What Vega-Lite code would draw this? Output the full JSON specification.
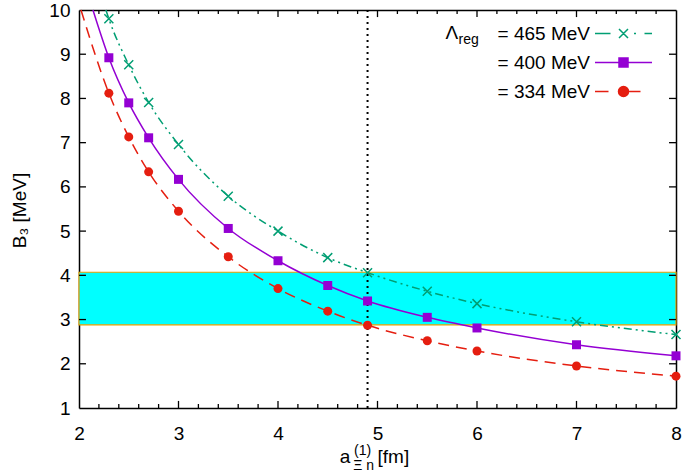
{
  "$schema": "https://vega.github.io/schema/vega-lite/v6.json",
  "width": 597,
  "height": 398,
  "autosize": {"type": "none"},
  "padding": {"left": 79, "top": 10, "right": 9, "bottom": 68},
  "background": "white",
  "config": {
    "view": {"stroke": null},
    "font": "Liberation Sans",
    "text": {"font": "Liberation Sans", "color": "black"}
  },
  "datasets": {
    "pts": [
      {"series": "465", "a": 2.3, "B": 9.80}, {"series": "465", "a": 2.5, "B": 8.76}, {"series": "465", "a": 2.7, "B": 7.91},
      {"series": "465", "a": 3.0, "B": 6.96}, {"series": "465", "a": 3.5, "B": 5.79}, {"series": "465", "a": 4.0, "B": 5.00},
      {"series": "465", "a": 4.5, "B": 4.40}, {"series": "465", "a": 4.9, "B": 4.06}, {"series": "465", "a": 5.5, "B": 3.64},
      {"series": "465", "a": 6.0, "B": 3.36}, {"series": "465", "a": 7.0, "B": 2.95}, {"series": "465", "a": 8.0, "B": 2.66},
      {"series": "400", "a": 2.3, "B": 8.92}, {"series": "400", "a": 2.5, "B": 7.90}, {"series": "400", "a": 2.7, "B": 7.11},
      {"series": "400", "a": 3.0, "B": 6.17}, {"series": "400", "a": 3.5, "B": 5.06}, {"series": "400", "a": 4.0, "B": 4.33},
      {"series": "400", "a": 4.5, "B": 3.77}, {"series": "400", "a": 4.9, "B": 3.42}, {"series": "400", "a": 5.5, "B": 3.05},
      {"series": "400", "a": 6.0, "B": 2.81}, {"series": "400", "a": 7.0, "B": 2.43}, {"series": "400", "a": 8.0, "B": 2.18},
      {"series": "334", "a": 2.3, "B": 8.12}, {"series": "334", "a": 2.5, "B": 7.13}, {"series": "334", "a": 2.7, "B": 6.34},
      {"series": "334", "a": 3.0, "B": 5.45}, {"series": "334", "a": 3.5, "B": 4.42}, {"series": "334", "a": 4.0, "B": 3.70},
      {"series": "334", "a": 4.5, "B": 3.19}, {"series": "334", "a": 4.9, "B": 2.87}, {"series": "334", "a": 5.5, "B": 2.52},
      {"series": "334", "a": 6.0, "B": 2.29}, {"series": "334", "a": 7.0, "B": 1.95}, {"series": "334", "a": 8.0, "B": 1.72}
    ],
    "curves": [
      {"series": "465", "a": 2.27, "B": 10.0},
      {"series": "465", "a": 2.3, "B": 9.80}, {"series": "465", "a": 2.5, "B": 8.76}, {"series": "465", "a": 2.7, "B": 7.91},
      {"series": "465", "a": 3.0, "B": 6.96}, {"series": "465", "a": 3.5, "B": 5.79}, {"series": "465", "a": 4.0, "B": 5.00},
      {"series": "465", "a": 4.5, "B": 4.40}, {"series": "465", "a": 4.9, "B": 4.06}, {"series": "465", "a": 5.5, "B": 3.64},
      {"series": "465", "a": 6.0, "B": 3.36}, {"series": "465", "a": 7.0, "B": 2.95}, {"series": "465", "a": 8.0, "B": 2.66},
      {"series": "400", "a": 2.14, "B": 10.0},
      {"series": "400", "a": 2.3, "B": 8.92}, {"series": "400", "a": 2.5, "B": 7.90}, {"series": "400", "a": 2.7, "B": 7.11},
      {"series": "400", "a": 3.0, "B": 6.17}, {"series": "400", "a": 3.5, "B": 5.06}, {"series": "400", "a": 4.0, "B": 4.33},
      {"series": "400", "a": 4.5, "B": 3.77}, {"series": "400", "a": 4.9, "B": 3.42}, {"series": "400", "a": 5.5, "B": 3.05},
      {"series": "400", "a": 6.0, "B": 2.81}, {"series": "400", "a": 7.0, "B": 2.43}, {"series": "400", "a": 8.0, "B": 2.18},
      {"series": "334", "a": 2.02, "B": 10.0},
      {"series": "334", "a": 2.3, "B": 8.12}, {"series": "334", "a": 2.5, "B": 7.13}, {"series": "334", "a": 2.7, "B": 6.34},
      {"series": "334", "a": 3.0, "B": 5.45}, {"series": "334", "a": 3.5, "B": 4.42}, {"series": "334", "a": 4.0, "B": 3.70},
      {"series": "334", "a": 4.5, "B": 3.19}, {"series": "334", "a": 4.9, "B": 2.87}, {"series": "334", "a": 5.5, "B": 2.52},
      {"series": "334", "a": 6.0, "B": 2.29}, {"series": "334", "a": 7.0, "B": 1.95}, {"series": "334", "a": 8.0, "B": 1.72}
    ],
    "band": [{"lo": 2.88, "hi": 4.07}],
    "xmajor": [{"v": 3}, {"v": 4}, {"v": 5}, {"v": 6}, {"v": 7}],
    "xminor": [
      {"v": 2.2}, {"v": 2.4}, {"v": 2.6}, {"v": 2.8}, {"v": 3.2}, {"v": 3.4}, {"v": 3.6}, {"v": 3.8},
      {"v": 4.2}, {"v": 4.4}, {"v": 4.6}, {"v": 4.8}, {"v": 5.2}, {"v": 5.4}, {"v": 5.6}, {"v": 5.8},
      {"v": 6.2}, {"v": 6.4}, {"v": 6.6}, {"v": 6.8}, {"v": 7.2}, {"v": 7.4}, {"v": 7.6}, {"v": 7.8}
    ],
    "ymajor": [{"v": 2}, {"v": 3}, {"v": 4}, {"v": 5}, {"v": 6}, {"v": 7}, {"v": 8}, {"v": 9}]
  },
  "resolve": {"axis": {"x": "independent", "y": "independent"}},
  "layer": [
    {
      "data": {"name": "band"},
      "mark": {"type": "rect", "fill": "#00ffff", "stroke": "#e69f00", "strokeWidth": 1.2},
      "encoding": {
        "x": {"datum": 2, "type": "quantitative",
          "scale": {"domain": [2, 8], "nice": false, "zero": false},
          "axis": {"orient": "bottom", "title": null, "ticks": false, "domain": true, "grid": false,
            "domainColor": "black", "domainWidth": 1.5,
            "values": [2, 3, 4, 5, 6, 7, 8], "format": "d",
            "labelOverlap": false, "labelFlush": false, "labelBound": false,
            "labelPadding": 16, "labelFont": "Liberation Sans", "labelFontSize": 19, "labelColor": "black"}},
        "x2": {"datum": 8},
        "y": {"field": "lo", "type": "quantitative",
          "scale": {"domain": [1, 10], "nice": false, "zero": false},
          "axis": {"orient": "left", "ticks": false, "domain": true, "grid": false, "domainColor": "black", "domainWidth": 1.5,
            "values": [1,2,3,4,5,6,7,8,9,10],
            "labelPadding": 9, "labelFlush": false, "labelOverlap": false,
            "labelFont": "Liberation Sans", "labelFontSize": 19, "labelColor": "black",
            "title": "B₃ [MeV]", "titleFont": "Liberation Sans", "titleFontSize": 19, "titleFontWeight": "normal",
            "titleColor": "black", "titleX": -60, "titleY": 200, "titleAngle": 270, "titleAlign": "center", "titleBaseline": "middle"}},
        "y2": {"field": "hi"}
      }
    },
    {
      "data": {"name": "xmajor"},
      "mark": {"type": "rule", "color": "black", "strokeWidth": 1.3},
      "encoding": {"x": {"field": "v", "type": "quantitative", "axis": null},
        "y": {"datum": 1, "type": "quantitative", "axis": null}, "y2": {"datum": 1.16}}
    },
    {
      "data": {"name": "xmajor"},
      "mark": {"type": "rule", "color": "black", "strokeWidth": 1.3},
      "encoding": {"x": {"field": "v", "type": "quantitative", "axis": null},
        "y": {"datum": 10, "type": "quantitative", "axis": null}, "y2": {"datum": 9.84}}
    },
    {
      "data": {"name": "xminor"},
      "mark": {"type": "rule", "color": "black", "strokeWidth": 1.3},
      "encoding": {"x": {"field": "v", "type": "quantitative", "axis": null},
        "y": {"datum": 1, "type": "quantitative", "axis": null}, "y2": {"datum": 1.09}}
    },
    {
      "data": {"name": "xminor"},
      "mark": {"type": "rule", "color": "black", "strokeWidth": 1.3},
      "encoding": {"x": {"field": "v", "type": "quantitative", "axis": null},
        "y": {"datum": 10, "type": "quantitative", "axis": null}, "y2": {"datum": 9.91}}
    },
    {
      "data": {"name": "ymajor"},
      "mark": {"type": "rule", "color": "black", "strokeWidth": 1.3},
      "encoding": {"y": {"field": "v", "type": "quantitative", "axis": null},
        "x": {"datum": 2, "type": "quantitative", "axis": null}, "x2": {"datum": 2.07}}
    },
    {
      "data": {"name": "ymajor"},
      "mark": {"type": "rule", "color": "black", "strokeWidth": 1.3},
      "encoding": {"y": {"field": "v", "type": "quantitative", "axis": null},
        "x": {"datum": 8, "type": "quantitative", "axis": null}, "x2": {"datum": 7.93}}
    },
    {
      "data": {"values": [{}]},
      "mark": {"type": "rule", "color": "black", "strokeWidth": 2, "strokeDash": [2, 4]},
      "encoding": {"x": {"datum": 4.9, "type": "quantitative", "axis": null}}
    },
    {
      "data": {"name": "curves"},
      "transform": [{"filter": "datum.series === '465'"}],
      "mark": {"type": "line", "interpolate": "monotone", "strokeWidth": 1.5, "color": "#009e73", "strokeDash": [8, 4, 2, 4, 2, 4]},
      "encoding": {
        "x": {"field": "a", "type": "quantitative",
          "axis": {"orient": "top", "title": null, "labels": false, "ticks": false, "domain": true, "grid": false,
            "domainColor": "black", "domainWidth": 1.5, "values": [2, 3, 4, 5, 6, 7, 8]}},
        "y": {"field": "B", "type": "quantitative",
          "axis": {"orient": "right", "title": null, "labels": false, "ticks": false, "domain": true, "grid": false,
            "domainColor": "black", "domainWidth": 1.5, "values": [1,2,3,4,5,6,7,8,9,10]}}
      }
    },
    {
      "data": {"name": "curves"},
      "transform": [{"filter": "datum.series === '400'"}],
      "mark": {"type": "line", "interpolate": "monotone", "strokeWidth": 1.5, "color": "#9400d3"},
      "encoding": {
        "x": {"field": "a", "type": "quantitative", "axis": null},
        "y": {"field": "B", "type": "quantitative", "axis": null}
      }
    },
    {
      "data": {"name": "curves"},
      "transform": [{"filter": "datum.series === '334'"}],
      "mark": {"type": "line", "interpolate": "monotone", "strokeWidth": 1.5, "color": "#e51e10", "strokeDash": [11, 7]},
      "encoding": {
        "x": {"field": "a", "type": "quantitative", "axis": null},
        "y": {"field": "B", "type": "quantitative", "axis": null}
      }
    },
    {
      "data": {"name": "pts"},
      "transform": [{"filter": "datum.series === '465'"}],
      "mark": {"type": "point", "shape": "M-1,-1L1,1M-1,1L1,-1", "filled": false, "opacity": 1, "size": 81, "strokeWidth": 1.5, "color": "#009e73"},
      "encoding": {
        "x": {"field": "a", "type": "quantitative", "axis": null},
        "y": {"field": "B", "type": "quantitative", "axis": null}
      }
    },
    {
      "data": {"name": "pts"},
      "transform": [{"filter": "datum.series === '400'"}],
      "mark": {"type": "point", "shape": "square", "filled": true, "opacity": 1, "size": 81, "color": "#9400d3"},
      "encoding": {
        "x": {"field": "a", "type": "quantitative", "axis": null},
        "y": {"field": "B", "type": "quantitative", "axis": null}
      }
    },
    {
      "data": {"name": "pts"},
      "transform": [{"filter": "datum.series === '334'"}],
      "mark": {"type": "point", "shape": "circle", "filled": true, "opacity": 1, "size": 81, "color": "#e51e10"},
      "encoding": {
        "x": {"field": "a", "type": "quantitative", "axis": null},
        "y": {"field": "B", "type": "quantitative", "axis": null}
      }
    },
    {
      "data": {"name": "pts"},
      "mark": {"type": "point", "filled": true, "opacity": 0, "size": 1},
      "encoding": {
        "x": {"field": "a", "type": "quantitative", "axis": null},
        "y": {"field": "B", "type": "quantitative", "axis": null},
        "color": {"field": "series", "type": "nominal",
          "scale": {"domain": ["465", "400", "334"], "range": ["#009e73", "#9400d3", "#e51e10"]},
          "legend": {"orient": "none", "legendX": 535, "legendY": 14, "title": null, "padding": 0,
            "direction": "vertical", "rowPadding": 9,
            "labelAlign": "right", "labelOffset": -43, "labelFont": "Liberation Sans", "labelFontSize": 19, "labelColor": "black",
            "labelExpr": "'= ' + datum.label + ' MeV'",
            "symbolSize": 100, "symbolStrokeWidth": 1.5, "symbolOpacity": 1,
            "encode": {"symbols": {"update": {
              "shape": {"signal": "datum.value === '465' ? 'M-5.7,0H-2.6M-0.9,-0.9L0.9,0.9M-0.9,0.9L0.9,-0.9M2.1,0H2.5M4.2,0H5.7' : (datum.value === '400' ? 'M-5.7,0H5.7M-0.9,-0.9H0.9V0.9H-0.9Z' : 'M-5.7,0H-3M1,0A1,1 0 1,1 -1,0A1,1 0 1,1 1,0ZM1,0H3.4')"},
              "stroke": {"scale": "color", "field": "value"},
              "strokeWidth": {"value": 1.5},
              "size": {"value": 100},
              "opacity": {"value": 1}
            }}}}}
      }
    },
    {
      "data": {"values": [{}]},
      "mark": {"type": "text", "text": "Λ", "align": "right", "baseline": "alphabetic", "fontSize": 19, "font": "Liberation Sans", "color": "black"},
      "encoding": {"x": {"datum": 5.81, "type": "quantitative", "axis": null}, "y": {"datum": 9.355, "type": "quantitative", "axis": null}}
    },
    {
      "data": {"values": [{}]},
      "mark": {"type": "text", "text": "reg", "align": "left", "baseline": "alphabetic", "fontSize": 14, "font": "Liberation Sans", "color": "black"},
      "encoding": {"x": {"datum": 5.815, "type": "quantitative", "axis": null}, "y": {"datum": 9.231, "type": "quantitative", "axis": null}}
    },
    {
      "data": {"values": [{}]},
      "mark": {"type": "text", "text": "a", "align": "center", "baseline": "alphabetic", "fontSize": 19, "dy": 55, "font": "Liberation Sans", "color": "black"},
      "encoding": {"x": {"datum": 4.673, "type": "quantitative", "axis": null}, "y": {"datum": 1, "type": "quantitative", "axis": null}}
    },
    {
      "data": {"values": [{}]},
      "mark": {"type": "text", "text": "(1)", "align": "center", "baseline": "alphabetic", "fontSize": 14, "dy": 47, "font": "Liberation Sans", "color": "black"},
      "encoding": {"x": {"datum": 4.85, "type": "quantitative", "axis": null}, "y": {"datum": 1, "type": "quantitative", "axis": null}}
    },
    {
      "data": {"values": [{}]},
      "mark": {"type": "text", "text": "Ξ n", "align": "center", "baseline": "alphabetic", "fontSize": 14, "dy": 62, "font": "Liberation Sans", "color": "black"},
      "encoding": {"x": {"datum": 4.86, "type": "quantitative", "axis": null}, "y": {"datum": 1, "type": "quantitative", "axis": null}}
    },
    {
      "data": {"values": [{}]},
      "mark": {"type": "text", "text": "[fm]", "align": "left", "baseline": "alphabetic", "fontSize": 19, "dy": 55, "font": "Liberation Sans", "color": "black"},
      "encoding": {"x": {"datum": 5.0, "type": "quantitative", "axis": null}, "y": {"datum": 1, "type": "quantitative", "axis": null}}
    }
  ]
}
